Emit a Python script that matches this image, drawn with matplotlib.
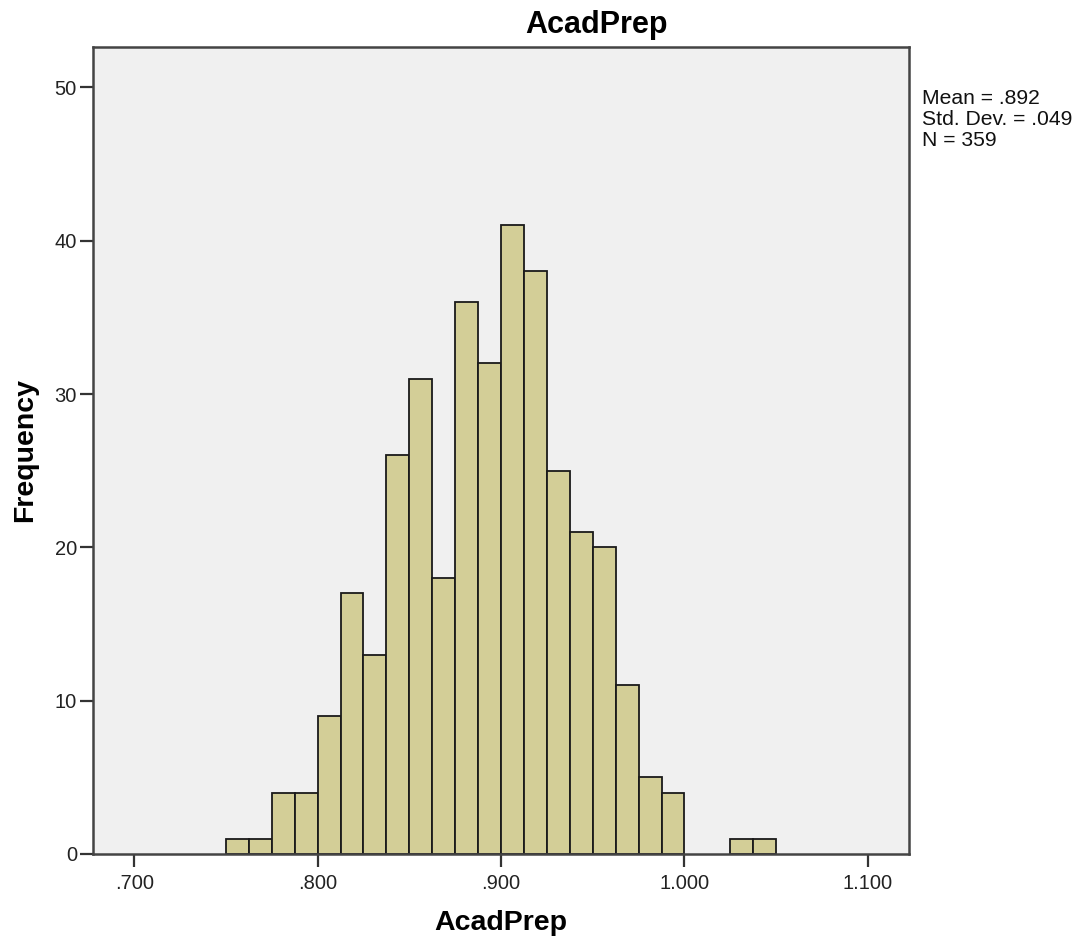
import numpy as np
import matplotlib
matplotlib.use("Agg")
import matplotlib.pyplot as plt
from matplotlib.ticker import FuncFormatter

plt.rcParams['font.family'] = ['Liberation Sans', 'DejaVu Sans']

# histogram of AcadPrep, bin width .0125 starting at .750
bin_start = 0.75
bin_width = 0.0125
counts = [1, 1, 4, 4, 9, 17, 13, 26, 31, 18, 36, 32, 41, 38, 25, 21, 20, 11, 5, 4,
          0, 0, 1, 1]
stats_lines = ["Mean = .892", "Std. Dev. = .049", "N = 359"]
x_ticks = [0.7, 0.8, 0.9, 1.0, 1.1]
y_ticks = [0, 10, 20, 30, 40, 50]

counts = np.array(counts)
lefts = bin_start + bin_width * np.arange(len(counts))
keep = counts > 0

fig = plt.figure(figsize=(10.81, 9.48), dpi=100)
ax = fig.add_axes([0.086, 0.0992, 0.755, 0.8515])
ax.set_facecolor('#f0f0f0')

ax.bar(lefts[keep], counts[keep], width=bin_width, align='edge',
       color='#d3ce97', edgecolor='#1a1a1a', linewidth=1.3)

ax.set_xlim(0.6775, 1.1225)
ax.set_ylim(0, 52.65)
ax.set_xticks(x_ticks)
ax.set_yticks(y_ticks)

def fmt(v, pos):
    s = f"{v:.3f}"
    return s[1:] if s.startswith("0") else s

ax.xaxis.set_major_formatter(FuncFormatter(fmt))
ax.tick_params(axis='both', direction='out', length=9.5, width=1.6, color='#333333',
               labelsize=14.5, labelcolor='#222222', pad=2)
ax.tick_params(axis='x', pad=5)
for sp in ax.spines.values():
    sp.set_color('#444444')
    sp.set_linewidth(1.8)

# title sits right of the axes centre in the original
fig.text(0.552, (948 - 33) / 948, "AcadPrep", fontsize=22, fontweight='bold',
         ha='center', va='baseline')
ax.set_xlabel("AcadPrep", fontsize=20.5, fontweight='bold', labelpad=12)
ax.set_ylabel("Frequency", fontsize=20.5, fontweight='bold', labelpad=12)

fig.text(0.853, 0.906, "\n".join(stats_lines), fontsize=15.2, va='top', ha='left',
         linespacing=1.12, color='#111111')

fig.savefig("out.png", dpi=100)
